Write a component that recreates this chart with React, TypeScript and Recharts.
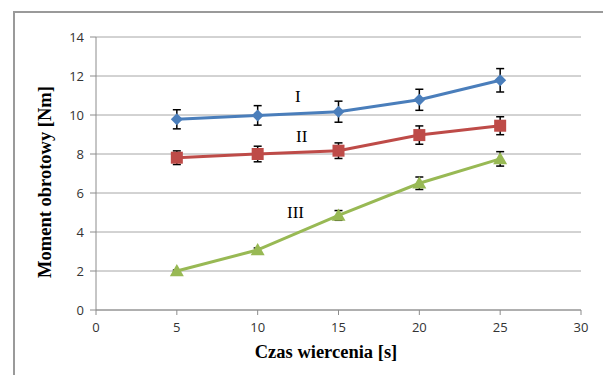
import { ComposedChart, Line, XAxis, YAxis, CartesianGrid, ErrorBar } from "recharts";

const times = [5, 10, 15, 20, 25];
const seriesI = [9.78, 9.98, 10.17, 10.78, 11.78];
const errI = [0.49, 0.5, 0.54, 0.54, 0.6];
const seriesII = [7.81, 8.0, 8.17, 8.97, 9.45];
const errII = [0.35, 0.4, 0.4, 0.47, 0.46];
const seriesIII = [2.0, 3.08, 4.85, 6.5, 7.75];
const errIII = [0.05, 0.1, 0.25, 0.32, 0.37];
const xTicks = [0, 5, 10, 15, 20, 25, 30];
const yTicks = [0, 2, 4, 6, 8, 10, 12, 14];

const build = (vals: number[], errs: number[]) =>
  times.map((t, i) => ({ t, v: vals[i], e: errs[i] }));

const dataI = build(seriesI, errI);
const dataII = build(seriesII, errII);
const dataIII = build(seriesIII, errIII);

const Diamond = (p: any) => {
  const { cx, cy } = p;
  if (cx == null || cy == null) return null;
  const r = 6;
  return <path key={p.index} d={`M${cx},${cy - r}L${cx + r},${cy}L${cx},${cy + r}L${cx - r},${cy}Z`} fill="#4a7ebb" />;
};
const Square = (p: any) => {
  const { cx, cy } = p;
  if (cx == null || cy == null) return null;
  const r = 6;
  return <rect key={p.index} x={cx - r} y={cy - r} width={2 * r} height={2 * r} fill="#be4b48" />;
};
const Triangle = (p: any) => {
  const { cx, cy } = p;
  if (cx == null || cy == null) return null;
  const r = 7;
  return <path key={p.index} d={`M${cx},${cy - r}L${cx + r},${cy + r * 0.75}L${cx - r},${cy + r * 0.75}Z`} fill="#98b954" />;
};

const serif = "'Liberation Serif', 'Times New Roman', serif";
const tickStyle = { fontFamily: "'Open Sans', sans-serif", fontSize: 13, fill: "#333" };

export default function App() {
  return (
    <div style={{ position: "fixed", left: 0, top: 0, width: 603, height: 375, background: "#fff", overflow: "hidden" }}>
      {/* frame: only top and left edges are visible */}
      <div style={{ position: "absolute", left: 13, top: 11, width: 590, height: 2, background: "#9a9a9a" }} />
      <div style={{ position: "absolute", left: 13, top: 11, width: 2, height: 364, background: "#9a9a9a" }} />
      <ComposedChart width={603} height={375} margin={{ top: 37, right: 22, bottom: 35, left: 56 }}>
        <CartesianGrid horizontal={true} vertical={false} stroke="#a6a6a6" strokeWidth={1} />
        <XAxis
          type="number"
          dataKey="t"
          domain={[0, 30]}
          ticks={xTicks}
          height={30}
          stroke="#8c8c8c"
          tickSize={5}
          tick={tickStyle}
          tickMargin={8}
          allowDuplicatedCategory={false}
        />
        <YAxis
          type="number"
          domain={[0, 14]}
          ticks={yTicks}
          width={40}
          stroke="#8c8c8c"
          tickSize={6}
          tick={tickStyle}
          tickMargin={6}
        />
        <Line data={dataI} dataKey="v" stroke="#4a7ebb" strokeWidth={3} dot={Diamond} activeDot={false} isAnimationActive={false}>
          <ErrorBar dataKey="e" direction="y" width={4} stroke="#000" strokeWidth={1.5} />
        </Line>
        <Line data={dataII} dataKey="v" stroke="#be4b48" strokeWidth={3} dot={Square} activeDot={false} isAnimationActive={false}>
          <ErrorBar dataKey="e" direction="y" width={4} stroke="#000" strokeWidth={1.5} />
        </Line>
        <Line data={dataIII} dataKey="v" stroke="#98b954" strokeWidth={3} dot={Triangle} activeDot={false} isAnimationActive={false}>
          <ErrorBar dataKey="e" direction="y" width={4} stroke="#000" strokeWidth={1.5} />
        </Line>
      </ComposedChart>
      <div style={{ position: "absolute", left: 295, top: 87, fontFamily: serif, fontSize: 17 }}>I</div>
      <div style={{ position: "absolute", left: 296, top: 127, fontFamily: serif, fontSize: 17 }}>II</div>
      <div style={{ position: "absolute", left: 287, top: 203, fontFamily: serif, fontSize: 17 }}>III</div>
      <div
        style={{
          position: "absolute",
          left: 45,
          top: 182,
          transform: "translate(-50%, -50%) rotate(-90deg)",
          whiteSpace: "nowrap",
          fontFamily: serif,
          fontWeight: "bold",
          fontSize: 18.5,
        }}
      >
        Moment obrotowy [Nm]
      </div>
      <div
        style={{
          position: "absolute",
          left: 326,
          top: 352,
          transform: "translate(-50%, -50%)",
          whiteSpace: "nowrap",
          fontFamily: serif,
          fontWeight: "bold",
          fontSize: 18.5,
        }}
      >
        Czas wiercenia [s]
      </div>
    </div>
  );
}
